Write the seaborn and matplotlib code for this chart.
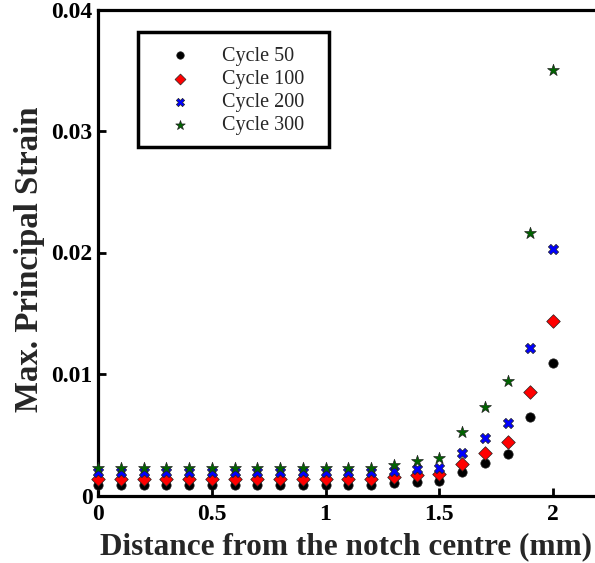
import numpy as np
import pandas as pd
import matplotlib
matplotlib.use("Agg")
import matplotlib.pyplot as plt
from matplotlib.patches import Rectangle
import seaborn as sns

# Distance from the notch centre (mm)
distance = [0.0, 0.1, 0.2, 0.3, 0.4, 0.5, 0.6, 0.7, 0.8, 0.9, 1.0,
            1.1, 1.2, 1.3, 1.4, 1.5, 1.6, 1.7, 1.8, 1.9, 2.0]

# Max. principal strain per cycle
cycle_50 = [0.0009, 0.0009, 0.0009, 0.0009, 0.0009, 0.0009, 0.0009, 0.0009,
            0.0009, 0.0009, 0.0009, 0.0009, 0.0009, 0.0010, 0.0011, 0.0012,
            0.0019, 0.0027, 0.0034, 0.0065, 0.0109]
cycle_100 = [0.00135, 0.00135, 0.00135, 0.00135, 0.00135, 0.00135, 0.00135,
             0.00135, 0.00135, 0.00135, 0.00135, 0.00135, 0.00135, 0.0015,
             0.0017, 0.0018, 0.0026, 0.0035, 0.0044, 0.0085, 0.0144]
cycle_200 = [0.0019, 0.0019, 0.0019, 0.0019, 0.0019, 0.0019, 0.0019, 0.0019,
             0.0019, 0.0019, 0.0019, 0.0019, 0.0019, 0.0020, 0.0022, 0.0023,
             0.0035, 0.0047, 0.0060, 0.0121, 0.0203]
cycle_300 = [0.0023, 0.0023, 0.0023, 0.0023, 0.0023, 0.0023, 0.0023, 0.0023,
             0.0023, 0.0023, 0.0023, 0.0023, 0.0023, 0.0025, 0.0028, 0.0031,
             0.0052, 0.0073, 0.0094, 0.0216, 0.0350]

series_names = ["Cycle 50", "Cycle 100", "Cycle 200", "Cycle 300"]
x_ticks = [0, 0.5, 1, 1.5, 2]
x_tick_labels = ["0", "0.5", "1", "1.5", "2"]
y_ticks = [0, 0.01, 0.02, 0.03, 0.04]
y_tick_labels = ["0", "0.01", "0.02", "0.03", "0.04"]

frames = []
for name, vals in zip(series_names, [cycle_50, cycle_100, cycle_200, cycle_300]):
    frames.append(pd.DataFrame({"distance": distance, "strain": vals, "cycle": name}))
df = pd.concat(frames, ignore_index=True)

sns.set_theme(style="white")
plt.rcParams["font.family"] = ["Liberation Serif", "DejaVu Serif"]

palette = {"Cycle 50": "#000000", "Cycle 100": "#ff0000",
           "Cycle 200": "#0000ff", "Cycle 300": "#006400"}
markers = {"Cycle 50": "o", "Cycle 100": "D", "Cycle 200": "X", "Cycle 300": "*"}
sizes = {"Cycle 50": 45, "Cycle 100": 48, "Cycle 200": 55, "Cycle 300": 80}

fig = plt.figure(figsize=(5.95, 5.63), dpi=100)
ax = fig.add_axes([98 / 595, 67.5 / 563, 500.5 / 595, 486 / 563])

for name in series_names:
    sub = df[df["cycle"] == name]
    sns.scatterplot(data=sub, x="distance", y="strain", ax=ax,
                    color=palette[name], marker=markers[name], s=sizes[name],
                    edgecolor="#222222", linewidth=0.5, label=name,
                    clip_on=False, zorder=3)

ax.set_xlim(0, 2.2)
ax.set_ylim(0, 0.04)
ax.set_xticks(x_ticks)
ax.set_xticklabels(x_tick_labels)
ax.set_yticks(y_ticks)
ax.set_yticklabels(y_tick_labels)

for sp in ax.spines.values():
    sp.set_linewidth(2.3)
    sp.set_color("black")

ax.tick_params(axis="both", direction="in", length=6, width=2,
               labelsize=17, top=False, right=False,
               bottom=True, left=True, colors="black")
ax.tick_params(axis="y", pad=4)
ax.tick_params(axis="x", pad=6)
for lab in ax.get_xticklabels() + ax.get_yticklabels():
    lab.set_fontweight("bold")

# x label centred under the visible part of the axis
ax.set_xlabel("Distance from the notch centre (mm)", fontsize=22.5,
              fontweight="bold")
ax.xaxis.set_label_coords((346 - 98) / 500.5, -0.075)
ax.set_ylabel("Max. Principal Strain", fontsize=23.7, fontweight="bold")
ax.yaxis.set_label_coords(-0.106, 0.486)

# legend entries without their own frame; a box with extra right margin
leg = ax.legend(loc="upper left", bbox_to_anchor=(40 / 500.5, 1 - 23 / 486),
                fontsize=14.5, frameon=False,
                borderpad=0.7, labelspacing=0.2, handletextpad=0.65,
                borderaxespad=0, markerscale=0.8, handlelength=2.8)
leg.set_zorder(6)
box = Rectangle((40 / 500.5, 1 - 137.5 / 486), 191 / 500.5, 115 / 486,
                transform=ax.transAxes, facecolor="white", edgecolor="black",
                linewidth=2.5, zorder=5)
ax.add_patch(box)

fig.savefig("out.png", dpi=100)
